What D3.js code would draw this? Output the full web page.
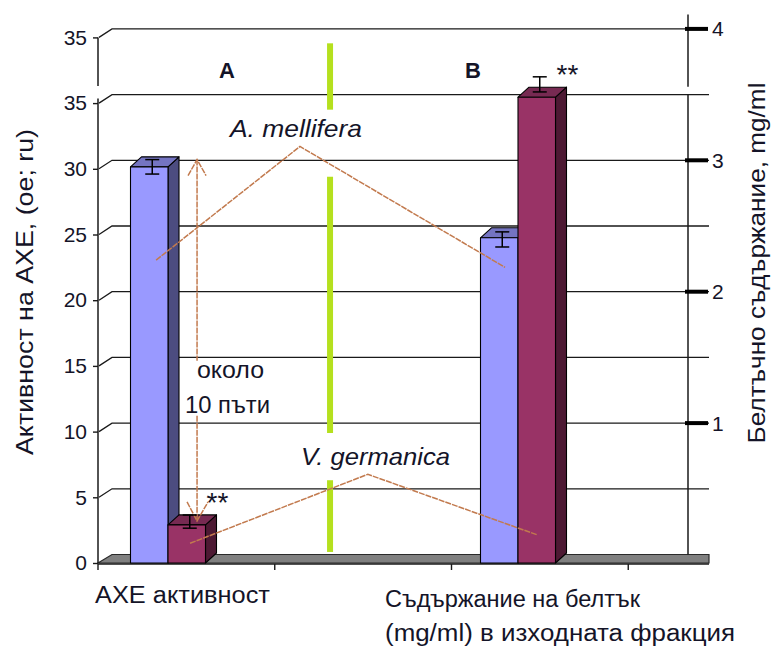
<!DOCTYPE html>
<html>
<head>
<meta charset="utf-8">
<script src="https://cdn.jsdelivr.net/npm/d3@7/dist/d3.min.js"></script>
<style>
  html, body { margin: 0; padding: 0; background: #fff; }
  svg { display: block; font-family: "Liberation Sans", Arial, sans-serif; }
</style>
</head>
<body>
<svg id="chart" width="772" height="646"></svg>
<script>
// ---- data ----
const categories = ["АХЕ активност", "Съдържание на белтък (mg/ml) в изходната фракция"];
const categoryLines = [["АХЕ активност"], ["Съдържание на белтък", "(mg/ml) в изходната фракция"]];
const categoryLineWidths = [[175], [255, 350]];
const seriesNames = ["A. mellifera", "V. germanica"];
const melliferaValues = [30.15, 24.75];
const germanicaValues = [2.9, 35.45];
const melliferaErrLow = [29.6, 24.05];
const melliferaErrHigh = [30.7, 25.2];
const germanicaErrLow = [2.65, 35.85];
const germanicaErrHigh = [3.65, 37.0];
const significance = ["**", "**"];          // marks for V. germanica bars
const leftTicks = [0, 5, 10, 15, 20, 25, 30, 35, 40];
const leftTickLabels = ["0", "5", "10", "15", "20", "25", "30", "35", "35"];
const rightTicks = [1, 2, 3, 4];
const rightTickLabels = ["1", "2", "3", "4"];
const leftTitle = "Активност на АХЕ, (oe; ru)";
const rightTitle = "Белтъчно съдържание, mg/ml";
const groupLetters = ["A", "B"];

// ---- layout ----
const svg = d3.select("#chart");
const BACK = { dx: 14, dy: -8.5 };        // offset of the back wall
const BAR = { dx: 11, dy: -10 };          // bar depth
const axisX = 98, plotRight = 709, rightAxisX = 688;
const textColor = "#141428";
const annColor = "#c27a4e";

const yL = d3.scaleLinear().domain([0, 40]).range([563, 37.4]);
const yR = d3.scaleLinear().domain([0, 4]).range([yL(0) + BACK.dy, yL(40) + BACK.dy]);
const xCat = d3.scalePoint().domain(categories).range([168, 518]);
const xSeries = d3.scaleBand().domain(seriesNames).range([-37.5, 37.5]);
const xSlots = d3.scaleBand().domain(d3.range(4)).range([axisX, 805]);
// annotation x positions run 0 → 1 between the two category centres
const xAnn = d3.scaleLinear().domain([0, 1]).range([xCat(categories[0]), xCat(categories[1])]);

const seriesColors = {
  "A. mellifera": { front: "#9999ff", side: "#4c4c80", top: "#7474c2" },
  "V. germanica": { front: "#993366", side: "#4d1933", top: "#772a52" }
};

// ---- back wall gridlines ----
const grid = svg.append("g").attr("stroke", "#1a1a1a").attr("stroke-width", 1.3).attr("fill", "none");
leftTicks.filter(v => v > 0).forEach(v => {
  const yb = yL(v) + BACK.dy;
  const xEnd = v === 40 ? rightAxisX : plotRight;
  grid.append("path").attr("d", `M${axisX + 1},${yL(v)} L${axisX + BACK.dx},${yb} L${xEnd},${yb}`);
});

// ---- floor ----
svg.append("path")
  .attr("d", `M${axisX},${yL(0)} L${axisX + BACK.dx},${yL(0) + BACK.dy} L${plotRight},${yL(0) + BACK.dy} L${plotRight},${yL(0)} Z`)
  .attr("fill", "#808080").attr("stroke", "#2a2a2a").attr("stroke-width", 1.2);

// ---- left axis ----
const leftAxis = svg.append("g").attr("transform", `translate(${axisX},0)`)
  .call(d3.axisLeft(yL).tickValues(leftTicks).tickFormat((d, i) => leftTickLabels[i]).tickSize(5).tickPadding(6));
leftAxis.select(".domain").remove();
leftAxis.selectAll(".tick line").attr("stroke", "#1a1a1a").attr("stroke-width", 1.4);
leftAxis.selectAll(".tick text").attr("font-size", 21).attr("fill", textColor)
  .attr("font-family", "Liberation Sans, Arial, sans-serif");
// axis line is interrupted between the two upper levels
[[0, 35.35], [36.3, 40]].forEach(([a, b]) => {
  svg.append("line").attr("x1", axisX).attr("x2", axisX).attr("y1", yL(a)).attr("y2", yL(b))
    .attr("stroke", "#1a1a1a").attr("stroke-width", 1.5);
});

// ---- category axis ----
svg.append("line").attr("x1", axisX).attr("x2", plotRight).attr("y1", yL(0) + 1).attr("y2", yL(0) + 1)
  .attr("stroke", "#1a1a1a").attr("stroke-width", 1.4);
xSlots.domain().forEach(i => {
  const x = xSlots(i);
  svg.append("line").attr("x1", x).attr("x2", x).attr("y1", yL(0) + 1).attr("y2", yL(0) + 7)
    .attr("stroke", "#1a1a1a").attr("stroke-width", 1.4);
});
const catLabelX = [95, 385];
const catLabelY = [603, 607];
categoryLines.forEach((lines, i) => {
  lines.forEach((t, j) => {
    svg.append("text").attr("x", catLabelX[i]).attr("y", catLabelY[i] + j * 34)
      .attr("font-size", 23.5).attr("fill", textColor)
      .attr("textLength", categoryLineWidths[i][j]).attr("lengthAdjust", "spacingAndGlyphs").text(t);
  });
});

// ---- right axis ----
[[0, 3.5], [3.56, 4.11]].forEach(([a, b]) => {
  svg.append("line").attr("x1", rightAxisX).attr("x2", rightAxisX).attr("y1", yR(a)).attr("y2", yR(b))
    .attr("stroke", "#1a1a1a").attr("stroke-width", 1.5);
});
rightTicks.forEach((r, i) => {
  svg.append("line").attr("x1", rightAxisX - 3).attr("x2", rightAxisX + 20).attr("y1", yR(r)).attr("y2", yR(r))
    .attr("stroke", "#000").attr("stroke-width", 4);
  svg.append("text").attr("x", rightAxisX + 24).attr("y", yR(r)).attr("dy", "0.36em")
    .attr("font-size", 21).attr("fill", textColor).text(rightTickLabels[i]);
});

// ---- axis titles ----
svg.append("text").attr("transform", "translate(33,292) rotate(-90)").attr("text-anchor", "middle")
  .attr("font-size", 24).attr("fill", textColor)
  .attr("textLength", 326).attr("lengthAdjust", "spacingAndGlyphs").text(leftTitle);
svg.append("text").attr("transform", "translate(765,263) rotate(-90)").attr("text-anchor", "middle")
  .attr("font-size", 24).attr("fill", textColor)
  .attr("textLength", 361).attr("lengthAdjust", "spacingAndGlyphs").text(rightTitle);

// ---- divider between the two panels ----
const dividerSpans = [[0.84, 6.3], [9.9, 29.4], [34.5, 39.55]];
dividerSpans.forEach(([a, b]) => {
  svg.append("line").attr("x1", xAnn(0.463)).attr("x2", xAnn(0.463)).attr("y1", yL(a)).attr("y2", yL(b))
    .attr("stroke", "#b5e01e").attr("stroke-width", 6);
});

// ---- 3D bars ----
const bars = [];
categories.forEach((c, i) => {
  bars.push({ c, s: seriesNames[0], v: melliferaValues[i], lo: melliferaErrLow[i], hi: melliferaErrHigh[i] });
  bars.push({ c, s: seriesNames[1], v: germanicaValues[i], lo: germanicaErrLow[i], hi: germanicaErrHigh[i] });
});
const w = xSeries.bandwidth();
const barG = svg.append("g").attr("stroke", "#000").attr("stroke-width", 1.1).attr("stroke-linejoin", "round");
bars.forEach(d => {
  const x0 = xCat(d.c) + xSeries(d.s);
  const yT = yL(d.v), yB = yL(0);
  const col = seriesColors[d.s];
  const g = barG.append("g");
  g.append("path").attr("fill", col.side)
    .attr("d", `M${x0 + w},${yT} L${x0 + w + BAR.dx},${yT + BAR.dy} L${x0 + w + BAR.dx},${yB + BAR.dy} L${x0 + w},${yB} Z`);
  g.append("path").attr("fill", col.top)
    .attr("d", `M${x0},${yT} L${x0 + BAR.dx},${yT + BAR.dy} L${x0 + w + BAR.dx},${yT + BAR.dy} L${x0 + w},${yT} Z`);
  g.append("rect").attr("x", x0).attr("y", yT).attr("width", w).attr("height", yB - yT).attr("fill", col.front);
});

// ---- annotation leader lines ----
const ann = svg.append("g").attr("stroke", annColor).attr("stroke-width", 1.5).attr("fill", "none")
  .attr("stroke-dasharray", "6,1");
const line = d3.line().x(p => xAnn(p[0])).y(p => yL(p[1]));
ann.append("path").attr("d", line([[-0.034, 23.05], [0.377, 31.7], [0.963, 22.5]]));
ann.append("path").attr("d", line([[0.063, 1.5], [0.571, 6.75], [1.054, 2.15]]));
// "about 10 times" double arrow
const ax = xAnn(0.083);
ann.append("path").attr("d", line([[0.083, 30.7], [0.083, 15.4]]));
ann.append("path").attr("d", line([[0.083, 11.2], [0.083, 3.2]]));
const topY = yL(30.7), botY = yL(3.2);
ann.append("path").attr("d", `M${ax - 9},${topY + 16} L${ax},${topY} L${ax + 9},${topY + 16}`);
ann.append("path").attr("d", `M${ax - 10},${botY - 19} L${ax},${botY} L${ax + 11},${botY - 19}`);

// ---- error bars ----
const errG = svg.append("g").attr("stroke", "#000").attr("stroke-width", 1.5);
bars.forEach(d => {
  const xc = xCat(d.c) + xSeries(d.s) + w / 2 + 3;
  errG.append("line").attr("x1", xc).attr("x2", xc).attr("y1", yL(d.lo)).attr("y2", yL(d.hi));
  errG.append("line").attr("x1", xc - 7).attr("x2", xc + 7).attr("y1", yL(d.lo)).attr("y2", yL(d.lo));
  errG.append("line").attr("x1", xc - 7).attr("x2", xc + 7).attr("y1", yL(d.hi)).attr("y2", yL(d.hi));
});

// ---- significance marks, just above the back edge of each V. germanica bar ----
categories.forEach((c, i) => {
  const x0 = xCat(c) + xSeries(seriesNames[1]);
  svg.append("text").attr("x", x0 + w + 1).attr("y", yL(germanicaValues[i]) + BAR.dy - 3)
    .attr("font-size", 28).attr("fill", textColor).text(significance[i]);
});

// ---- panel letters and species labels ----
groupLetters.forEach((t, i) => {
  svg.append("text").attr("x", [227, 473][i]).attr("y", 78).attr("text-anchor", "middle")
    .attr("font-size", 22).attr("font-weight", "bold").attr("fill", textColor).text(t);
});
svg.append("text").attr("x", 230).attr("y", 137).attr("font-size", 24).attr("font-style", "italic")
  .attr("fill", textColor).attr("textLength", 132).attr("lengthAdjust", "spacingAndGlyphs").text(seriesNames[0]);
svg.append("text").attr("x", 301).attr("y", 465).attr("font-size", 24).attr("font-style", "italic")
  .attr("fill", textColor).attr("textLength", 149).attr("lengthAdjust", "spacingAndGlyphs").text(seriesNames[1]);
svg.append("text").attr("x", 197).attr("y", 378).attr("font-size", 24).attr("fill", textColor)
  .attr("textLength", 67).attr("lengthAdjust", "spacingAndGlyphs").text("около");
svg.append("text").attr("x", 185).attr("y", 413).attr("font-size", 24).attr("fill", textColor)
  .attr("textLength", 85).attr("lengthAdjust", "spacingAndGlyphs").text("10 пъти");
</script>
</body>
</html>
